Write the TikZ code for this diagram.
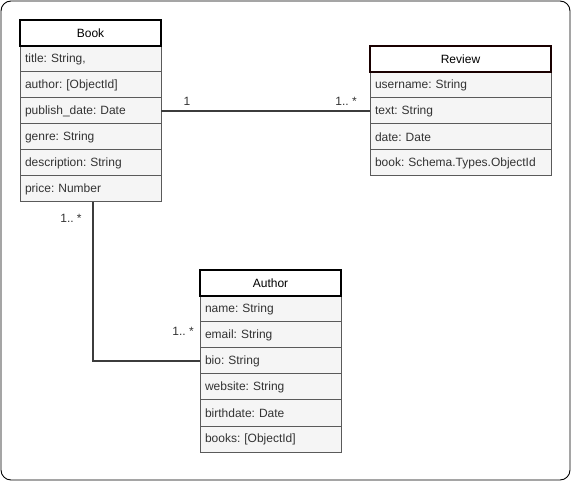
\documentclass[tikz,border=0pt]{standalone}
\usepackage{fontspec}
\setmainfont{Liberation Sans}
\usepackage{tikz}
\usetikzlibrary{calc, positioning}
\usepackage{xcolor}
\definecolor{rowfill}{HTML}{F5F5F5}
\definecolor{rowline}{HTML}{5A5A5A}
\definecolor{rowtext}{HTML}{333333}
\definecolor{linkgray}{HTML}{3C3C3C}
\tikzset{
	classhead/.style={draw=black, line width=2.4pt, fill=white, minimum height=26pt, inner sep=0pt, outer sep=0pt},
	classrow/.style={draw=rowline, line width=1pt, fill=rowfill, text=rowtext, minimum height=26pt, inner xsep=5pt, inner ysep=0pt, outer sep=0pt, align=left, anchor=north west},
	link/.style={draw=linkgray, line width=1.6pt},
	mult/.style={text=rowtext, inner sep=0pt}
}
\frenchspacing

\begin{document}
\begin{tikzpicture}[x=1pt, y=-1pt, font=\fontsize{12}{14}\selectfont]
			\useasboundingbox (0,0) rectangle (571,481);
			\draw [rounded corners=10pt, line width=0.9pt] (1,1) rectangle (570,480);
			% Book
			\foreach \txt [count=\i] in {{title: String,}, author: [ObjectId], publish\_date: Date, genre: String, description: String, price: Number}
				\node [classrow, text width=131pt] (book-\i) at (20,{46+26*(\i-1)}) {\txt};
			\node [classhead, minimum width=141pt, above=0pt of book-1] (book) {Book};
			% Review
			\foreach \txt [count=\i] in {username: String, text: String, date: Date, book: Schema.Types.ObjectId}
				\node [classrow, text width=171pt] (review-\i) at (370,{72+26*(\i-1)}) {\txt};
			\node [classhead, draw=black!90!red, minimum width=181pt, above=0pt of review-1] (review) {Review};
			% Author
			\foreach \txt [count=\i] in {name: String, email: String, bio: String, website: String, birthdate: Date, books: [ObjectId]}
				\node [classrow, text width=131pt] (author-\i) at (200,{296+26*(\i-1)}) {\txt};
			\node [classhead, minimum width=141pt, above=0pt of author-1] (author) {Author};
			% links
			\draw [link] (book-3.east) -- (review-2.west);
			\draw [link] ([xshift=2.5pt]book-6.south) |- (author-3.west);
			\node [mult] (m1) at ($(book-3.east)+(26,-10)$) {1};
			\node [mult, anchor=east] (m2) at ($(review-2.west)+(-13,-10)$) {1.. *};
			\node [mult] (m3) at (71,218) {1.. *};
			\node [mult, anchor=east] (m4) at ($(author-2.west)+(-6,-4)$) {1.. *};
		\end{tikzpicture}
\end{document}
